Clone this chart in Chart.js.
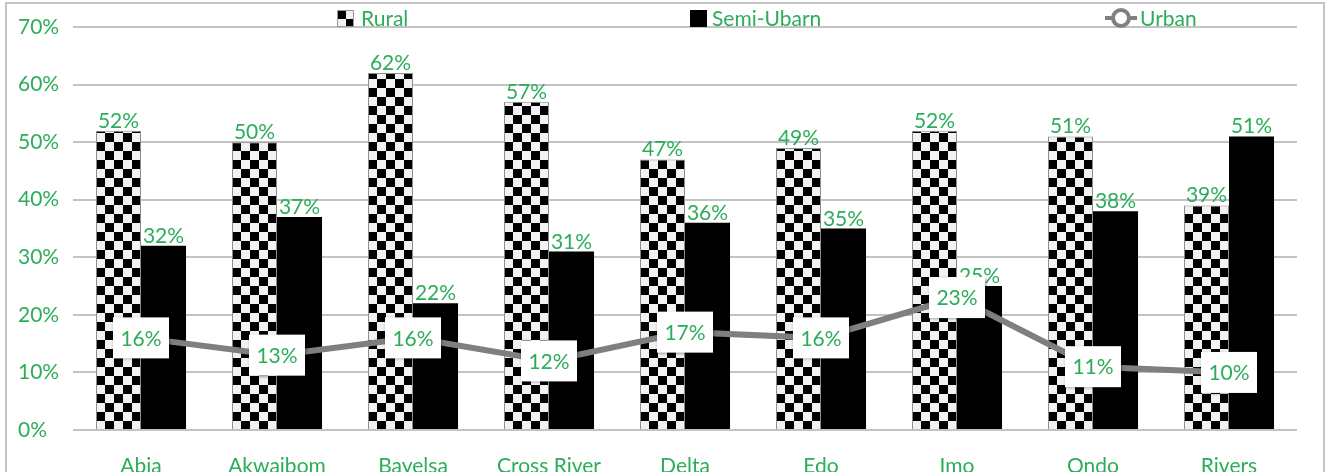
<!DOCTYPE html>
<html>
<head>
<meta charset="utf-8">
<title>Residence by state</title>
<script src="https://cdn.jsdelivr.net/npm/chart.js@4.4.1/dist/chart.umd.min.js"></script>
<style>
  html, body { margin: 0; padding: 0; background: #fff; }
  canvas { display: block; }
</style>
</head>
<body>
<canvas id="residenceChart" width="1330" height="472"></canvas>
<script>
const states = ['Abia', 'Akwaibom', 'Bayelsa', 'Cross River', 'Delta', 'Edo', 'Imo', 'Ondo', 'Rivers'];
const ruralShare = [52, 50, 62, 57, 47, 49, 52, 51, 39];
const semiUrbanShare = [32, 37, 22, 31, 36, 35, 25, 38, 51];
const urbanShare = [16, 13, 16, 12, 17, 16, 23, 11, 10];
const seriesNames = ['Rural', 'Semi-Ubarn', 'Urban'];

const GREEN = '#2cad5a';
const FONT = 'Lato, "Open Sans", sans-serif';
const SQ = 9;

// checkerboard tile for the rural bars
const tile = document.createElement('canvas');
tile.width = SQ * 2;
tile.height = SQ * 2;
const tctx = tile.getContext('2d');
tctx.fillStyle = '#f2f2f2';
tctx.fillRect(0, 0, SQ * 2, SQ * 2);
tctx.fillStyle = '#000';
tctx.fillRect(0, 0, SQ, SQ);
tctx.fillRect(SQ, SQ, SQ, SQ);

function checkerAt(ctx2d, x, y) {
    const p = ctx2d.createPattern(tile, 'repeat');
    p.setTransform(new DOMMatrix().translate(x, y));
    return p;
}

function ruralFill(context) {
    const chart = context.chart;
    const xs = chart.scales && chart.scales.x;
    const ys = chart.scales && chart.scales.y;
    if (!xs || !ys || context.dataIndex === undefined) return checkerAt(chart.ctx, 0, 0);
    const half = xs.width / states.length * 0.662 / 2;
    const left = xs.getPixelForValue(context.dataIndex) - half;
    return checkerAt(chart.ctx, Math.round(left), Math.round(ys.getPixelForValue(0)));
}

const frame = {
    id: 'frame',
    beforeDraw(chart) {
        const c = chart.ctx;
        c.save();
        c.strokeStyle = '#c4c4c4';
        c.lineWidth = 2;
        c.beginPath();
        c.moveTo(6, chart.height);
        c.lineTo(6, 3);
        c.lineTo(1324, 3);
        c.lineTo(1324, chart.height);
        c.stroke();
        c.restore();
    }
};

const valueLabels = {
    id: 'valueLabels',
    afterDatasetsDraw(chart) {
        const c = chart.ctx;
        c.save();
        c.font = '21px ' + FONT;
        c.fillStyle = GREEN;
        c.textAlign = 'center';
        c.textBaseline = 'alphabetic';
        [0, 1].forEach(di => {
            const ds = chart.data.datasets[di];
            chart.getDatasetMeta(di).data.forEach((el, i) => {
                c.fillText(ds.data[i] + '%', el.x, el.y - 3);
            });
        });

        // boxed labels on the urban line
        const line = chart.data.datasets[2];
        c.textBaseline = 'middle';
        chart.getDatasetMeta(2).data.forEach((pt, i) => {
            const w = 56, h = 41;
            c.save();
            c.shadowColor = 'rgba(0,0,0,0.45)';
            c.shadowBlur = 3;
            c.shadowOffsetX = 1;
            c.shadowOffsetY = 1;
            c.fillStyle = '#fff';
            c.fillRect(pt.x - w / 2, pt.y - h / 2, w, h);
            c.restore();
            c.fillStyle = GREEN;
            c.fillText(line.data[i] + '%', pt.x, pt.y + 1);
        });
        c.restore();
    }
};

const topLegend = {
    id: 'topLegend',
    afterDraw(chart) {
        const c = chart.ctx;
        c.save();
        c.font = '21px ' + FONT;
        c.textBaseline = 'alphabetic';
        c.textAlign = 'left';

        c.fillStyle = checkerAt(c, 337, 10);
        c.fillRect(337, 10, 16, 16);
        c.strokeStyle = '#999';
        c.lineWidth = 1;
        c.strokeRect(337.5, 10.5, 16, 16);
        c.fillStyle = GREEN;
        c.fillText(seriesNames[0], 361, 26);

        c.fillStyle = '#000';
        c.fillRect(690, 10, 17, 17);
        c.fillStyle = GREEN;
        c.fillText(seriesNames[1], 712, 26);

        c.strokeStyle = '#808080';
        c.lineWidth = 4;
        c.beginPath();
        c.moveTo(1105, 18);
        c.lineTo(1137, 18);
        c.stroke();
        c.beginPath();
        c.arc(1121, 18, 8, 0, Math.PI * 2);
        c.fillStyle = '#fff';
        c.fill();
        c.stroke();
        c.fillStyle = GREEN;
        c.fillText(seriesNames[2], 1140, 26);
        c.restore();
    }
};

new Chart(document.getElementById('residenceChart'), {
    data: {
        labels: states,
        datasets: [
            {
                type: 'bar',
                label: seriesNames[0],
                data: ruralShare,
                backgroundColor: ruralFill,
                borderColor: '#8c8c8c',
                borderWidth: 1,
                categoryPercentage: 0.662,
                barPercentage: 1,
                order: 2
            },
            {
                type: 'bar',
                label: seriesNames[1],
                data: semiUrbanShare,
                backgroundColor: '#000',
                borderWidth: 0,
                categoryPercentage: 0.662,
                barPercentage: 1,
                order: 2
            },
            {
                type: 'line',
                label: seriesNames[2],
                data: urbanShare,
                borderColor: '#7f7f7f',
                borderWidth: 6,
                pointRadius: 0,
                tension: 0,
                fill: false,
                order: 0
            }
        ]
    },
    options: {
        responsive: false,
        animation: false,
        devicePixelRatio: 1,
        layout: { padding: { left: 18, right: 33, top: 27, bottom: 0 } },
        plugins: {
            legend: { display: false },
            tooltip: { enabled: false }
        },
        scales: {
            x: {
                grid: { display: false },
                border: { display: false },
                ticks: {
                    color: GREEN,
                    font: { family: FONT, size: 21 },
                    padding: 16,
                    maxRotation: 0,
                    autoSkip: false
                },
                afterFit: s => { s.height = 42; }
            },
            y: {
                min: 0,
                max: 70,
                border: { display: false },
                grid: { color: '#c3c3c3', lineWidth: 2, drawTicks: false },
                ticks: {
                    stepSize: 10,
                    color: GREEN,
                    crossAlign: 'far',
                    font: { family: FONT, size: 21 },
                    callback: v => v + '%'
                },
                afterFit: s => { s.width = 55; }
            }
        }
    },
    plugins: [frame, valueLabels, topLegend]
});
</script>
</body>
</html>
